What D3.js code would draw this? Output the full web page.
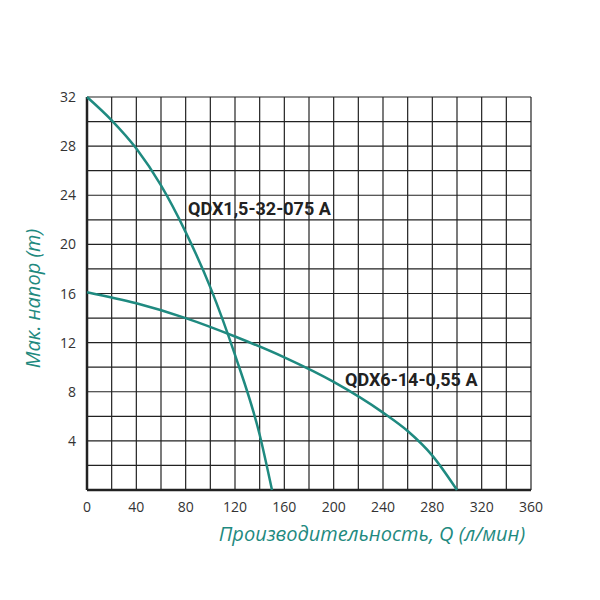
<!DOCTYPE html><html><head><meta charset="utf-8"><script src="https://d3js.org/d3.v7.min.js"></script>
<style>body{margin:0;background:#fff}</style></head><body><svg width="600" height="600"></svg><script>
const xTicks=[0,40,80,120,160,200,240,280,320,360];
const yTicks=[4,8,12,16,20,24,28,32];
const q1=[0,20,40,60,80,100,120,140,150];
const h1=[32,30.1,27.8,24.8,21,16.5,11,4.5,0];
const q2=[0,40,80,120,160,200,240,260,280,300];
const h2=[16.1,15.2,14,12.5,10.8,8.8,6.3,4.8,2.8,0];
const names=["QDX1,5-32-075 A","QDX6-14-0,55 A"];
const svg=d3.select("svg");
const x=d3.scaleLinear().domain([0,360]).range([87,531]);
const y=d3.scaleLinear().domain([0,32]).range([490,97]);
const g=svg.append("g");
g.selectAll(".vx").data(d3.range(0,361,20)).enter().append("line").attr("x1",d=>x(d)).attr("x2",d=>x(d)).attr("y1",y(0)).attr("y2",y(32)).attr("stroke","#222").attr("stroke-width",1.2);
g.selectAll(".hy").data(d3.range(0,33,2)).enter().append("line").attr("y1",d=>y(d)).attr("y2",d=>y(d)).attr("x1",x(0)).attr("x2",x(360)).attr("stroke","#222").attr("stroke-width",1.2);
g.append("line").attr("x1",x(0)).attr("x2",x(0)).attr("y1",y(0)).attr("y2",y(32)).attr("stroke","#222").attr("stroke-width",2.5);
g.append("line").attr("x1",x(0)).attr("x2",x(360)).attr("y1",y(0)).attr("y2",y(0)).attr("stroke","#222").attr("stroke-width",2.5);
const f="'Open Sans',sans-serif";
g.selectAll(".xt").data(xTicks).enter().append("text").attr("x",d=>x(d)).attr("y",512).attr("text-anchor","middle").attr("font-family",f).attr("font-size",14).attr("fill","#333").text(d=>d);
g.selectAll(".yt").data(yTicks).enter().append("text").attr("x",76).attr("y",d=>y(d)+5).attr("text-anchor","end").attr("font-family",f).attr("font-size",14).attr("fill","#333").text(d=>d);
const line=d3.line().x(d=>x(d[0])).y(d=>y(d[1])).curve(d3.curveMonotoneX);
[[q1,h1],[q2,h2]].forEach(([q,h])=>svg.append("path").attr("d",line(q.map((v,i)=>[v,h[i]]))).attr("fill","none").attr("stroke","#1f8a80").attr("stroke-width",2.5));
svg.append("text").attr("x",188).attr("y",215).attr("font-family","Roboto,sans-serif").attr("font-weight","bold").attr("font-size",18).attr("fill","#222").text(names[0]);
svg.append("text").attr("x",345).attr("y",386).attr("font-family","Roboto,sans-serif").attr("font-weight","bold").attr("font-size",18).attr("fill","#222").text(names[1]);
svg.append("text").attr("x",372).attr("y",541).attr("text-anchor","middle").attr("font-family",f).attr("font-style","italic").attr("font-size",20).attr("fill","#1f8a80").text("Производительность, Q (л/мин)");
svg.append("text").attr("transform",`translate(40,${y(16)+5}) rotate(-90)`).attr("text-anchor","middle").attr("font-family",f).attr("font-style","italic").attr("font-size",20).attr("fill","#1f8a80").text("Мак. напор (m)");
</script></body></html>
